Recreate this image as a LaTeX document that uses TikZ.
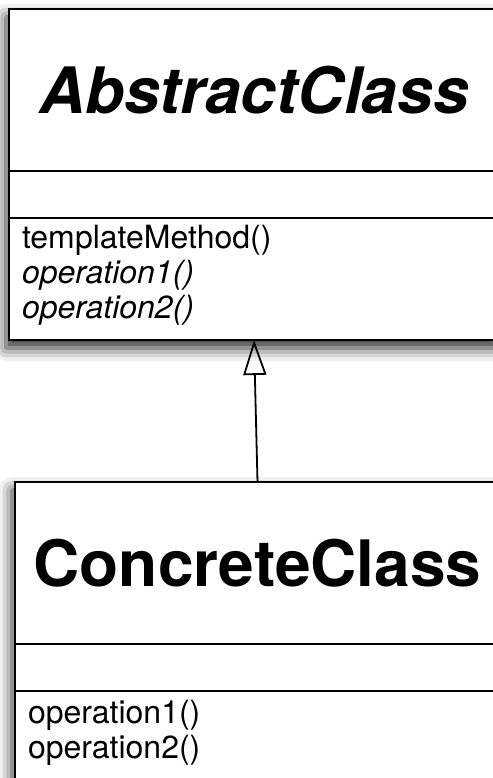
\documentclass[tikz,border=0pt]{standalone}
\usepackage{fontspec}
\setmainfont{TeX Gyre Heros}
\usetikzlibrary{positioning}
\usetikzlibrary{arrows.meta}
\usetikzlibrary{fit, backgrounds, shadows.blur}

\begin{document}
\begin{tikzpicture}[-{Triangle[open, length=35pt, width=23pt]}, line width=1.8pt, draw=black, node distance=142pt, font=\fontsize{32}{35}\selectfont]
	\tikzstyle{part}=[draw=black, fill=white, rectangle, line width=2.3pt, outer sep=0pt, inner sep=0pt, minimum width=490pt]
	\tikzstyle{title}=[part, minimum height=162pt, font=\fontsize{64}{70}\selectfont\bfseries]
	\tikzstyle{attr}=[part, minimum height=47pt]
	\tikzstyle{meth}=[part, text width=464pt, align=left, inner xsep=13pt, inner ysep=6pt]
	\tikzstyle{boxshade}=[fill=white, inner sep=0pt, blur shadow={shadow xshift=-3pt, shadow yshift=-8pt, shadow blur radius=13pt, shadow opacity=85}]
	
	\useasboundingbox (0,0) rectangle (492pt,-778pt);
	
	\node[title] (abstitle) at (254pt,-90pt) {\itshape AbstractClass};
	\node[attr, below=0pt of abstitle] (absattr) {};
	\node[meth, below=0pt of absattr, text height=24pt, text depth=86pt] (absmeth) {templateMethod()\\ \textit{operation1()}\\ \textit{operation2()}};
	
	\node[title, minimum width=485pt, below=of absmeth, xshift=3.5pt] (contitle) {ConcreteClass};
	\node[attr, minimum width=485pt, below=0pt of contitle] (conattr) {};
	\node[meth, minimum width=485pt, text width=459pt, below=0pt of conattr, text height=26pt, text depth=71pt] (conmeth) {operation1()\\ operation2()};
	
	\begin{scope}[on background layer]
		\node[boxshade, fit=(abstitle)(absmeth)] (absbox) {};
		\node[boxshade, fit=(contitle)(conmeth)] (conbox) {};
	\end{scope}
	
	\path (contitle.north) edge (absmeth.south);
\end{tikzpicture}
\end{document}
